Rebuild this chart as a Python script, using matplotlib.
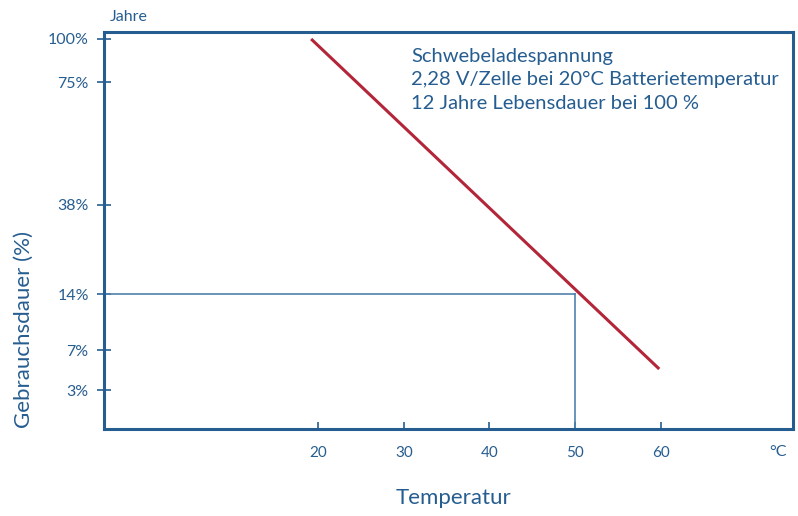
import matplotlib
matplotlib.use("Agg")
import matplotlib.pyplot as plt

# --- data ---
temp_ticks = [20, 30, 40, 50, 60]
temp_labels = ["20", "30", "40", "50", "60"]
life_labels = ["100%", "75%", "38%", "14%", "7%", "3%"]
life_pos = [390, 347, 224, 135, 79, 39]          # vertical positions of the labels on the chart
curve_temp = [19.2, 59.8]
curve_pos = [390, 60]
marker_temp = 50
marker_pos = 135

BLUE = "#265d90"
GUIDE = "#4f81ad"
RED = "#b3263a"
FONT = "Lato"

plt.rcParams['font.family'] = [FONT, 'DejaVu Sans']

fig = plt.figure(figsize=(7.98, 5.16), dpi=100)
ax = fig.add_axes([104/798, 1-429/516, (793-104)/798, (429-32)/516])
ax.set_xlim(-4.96, 75.4)
ax.set_ylim(0, 397)

# guide lines
ax.plot([-5.6, marker_temp], [marker_pos, marker_pos], color=GUIDE, lw=1.2, clip_on=False, zorder=2)
ax.plot([marker_temp, marker_temp], [marker_pos, 0], color=GUIDE, lw=1.2, zorder=2)
# main curve
ax.plot(curve_temp, curve_pos, color=RED, lw=2.2, solid_capstyle='butt', zorder=3)

for s in ax.spines.values():
    s.set_color(BLUE)
    s.set_linewidth(2.2)

ax.set_xticks(temp_ticks)
ax.set_xticklabels(temp_labels)
ax.set_yticks(life_pos)
ax.set_yticklabels(life_labels)
ax.tick_params(axis='x', direction='in', length=5, width=1.2, color=BLUE,
               labelcolor=BLUE, labelsize=11, pad=12)
ax.tick_params(axis='y', direction='inout', length=10, width=1.2, color=BLUE,
               labelcolor=BLUE, labelsize=11.5, pad=6)

ax.text(73.6, -23, "°C", color=BLUE, fontsize=11.5, ha='center', va='center')
ax.text(-4.96 + 0.7, 412, "Jahre", color=BLUE, fontsize=11.5, ha='left', va='center')

ax.text(-4.96 + (411-104)/8.575, 381,
        "Schwebeladespannung\n2,28 V/Zelle bei 20°C Batterietemperatur\n12 Jahre Lebensdauer bei 100 %",
        color=BLUE, fontsize=14.5, ha='left', va='top', linespacing=1.45)

fig.text(24/798, 1-330/516, "Gebrauchsdauer (%)", color=BLUE, fontsize=16,
         rotation=90, ha='center', va='center')
fig.text(453/798, 1-498/516, "Temperatur", color=BLUE, fontsize=16,
         ha='center', va='center')

fig.savefig("out.png", dpi=100)
